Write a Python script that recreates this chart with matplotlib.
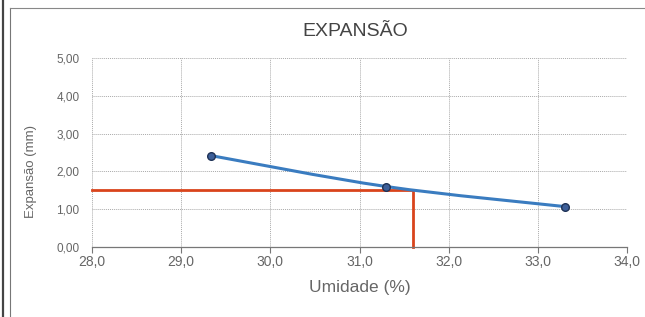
import matplotlib.pyplot as plt
from matplotlib.path import Path
from matplotlib.patches import PathPatch
from matplotlib.lines import Line2D
import numpy as np

#%% Data
umidade = [29.33, 31.30, 33.30]      # %
expansao = [2.42, 1.60, 1.07]        # mm
ref_umidade = 31.6                   # linha de referencia
ref_expansao = 1.50
x_ticks = [28.0, 29.0, 30.0, 31.0, 32.0, 33.0, 34.0]
y_ticks = [0.0, 1.0, 2.0, 3.0, 4.0, 5.0]

plt.rcParams['font.family'] = ['Liberation Sans', 'DejaVu Sans']
txt = '#666666'

#%% Figure
fig = plt.figure(figsize=(6.45, 3.17), dpi=100)
ax = fig.add_axes([92/645, 1-247/317, (627-92)/645, (247-58)/317])

# moldura do grafico (scan)
fig.add_artist(Line2D([3/645, 3/645], [0, 1], transform=fig.transFigure, color='#444444', lw=1.6))
fig.add_artist(Line2D([9.5/645, 9.5/645], [0, 1-8/317], transform=fig.transFigure, color='#777777', lw=0.8))
fig.add_artist(Line2D([9.5/645, 1], [1-8/317, 1-8/317], transform=fig.transFigure, color='#888888', lw=0.8))

# curva suavizada tipo Excel (Bezier pelos pontos)
P = np.column_stack([umidade, expansao])
n = len(P)
verts = [P[0]]
codes = [Path.MOVETO]
for i in range(n-1):
    p0 = P[max(i-1, 0)]
    p1 = P[i]
    p2 = P[i+1]
    p3 = P[min(i+2, n-1)]
    c1 = p1 + (p2 - p0) / 6
    c2 = p2 - (p3 - p1) / 6
    verts += [c1, c2, p2]
    codes += [Path.CURVE4]*3
ax.add_patch(PathPatch(Path(verts, codes), facecolor='none', edgecolor='#3a7cc0', lw=2.2, zorder=3))
ax.plot(umidade, expansao, 'o', ms=5.5, mfc='#3d5f99', mec='#1f3256', mew=1, zorder=4)

# linhas de referencia
ax.plot([28.0, ref_umidade, ref_umidade], [ref_expansao, ref_expansao, 0.0],
        color='#d9441c', lw=2, solid_joinstyle='miter', zorder=2, clip_on=False)

ax.set_xlim(28, 34)
ax.set_ylim(0, 5)
ax.set_xticks(x_ticks)
ax.set_yticks(y_ticks)
ax.set_xticklabels([f"{v:.1f}".replace('.', ',') for v in x_ticks])
ax.set_yticklabels([f"{v:.2f}".replace('.', ',') for v in y_ticks])
ax.grid(True, color='#aaaaaa', ls=(0, (1, 1)), lw=0.7)
for s in ['top', 'right', 'left']:
    ax.spines[s].set_visible(False)
ax.spines['bottom'].set_color('#777777')
ax.spines['bottom'].set_linewidth(0.9)
ax.tick_params(axis='x', colors='#777777', length=4, width=0.8, labelsize=10, labelcolor=txt, pad=2)
ax.tick_params(axis='y', length=0, labelsize=8.5, labelcolor=txt, pad=9)

ax.set_xlabel('Umidade (%)', fontsize=12.5, color=txt, labelpad=8)
ax.set_ylabel('Expansão (mm)', fontsize=9.5, color=txt)
ax.yaxis.set_label_coords(-0.102, 0.40)
fig.text(0.55, 1-32/317, 'EXPANSÃO', ha='center', va='center', fontsize=14, color='#444444')

fig.savefig('out.png', dpi=100)
